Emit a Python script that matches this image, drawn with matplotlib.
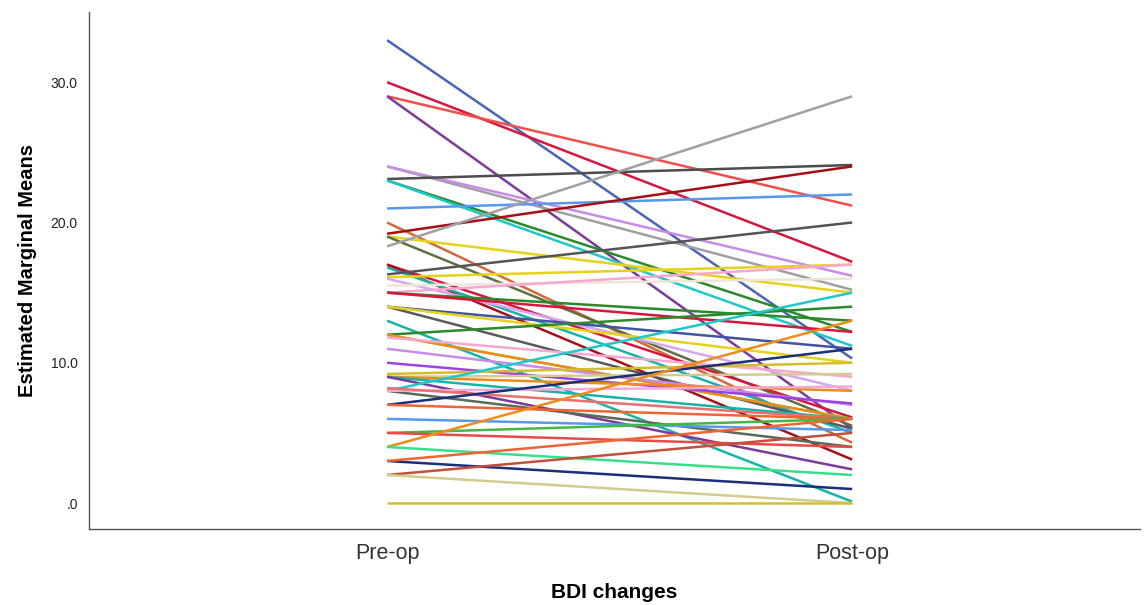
import matplotlib
matplotlib.use("Agg")
import matplotlib.pyplot as plt

plt.rcParams['font.family'] = ['Liberation Sans', 'DejaVu Sans']

categories = ["Pre-op", "Post-op"]
pre_values = [33, 30, 29, 29, 24, 24, 23.1, 23, 23, 21, 20, 19.2, 19, 19, 18.3,
              17, 17, 16.8, 16.3, 16.1, 16, 15.5, 15, 15, 15, 14, 14, 14, 13,
              12, 12, 12, 11.8, 11, 10, 9, 9, 9, 9, 9.2, 8, 8, 8, 8.2, 7, 7,
              6, 5, 5, 4, 4, 3, 3, 2, 2, 0]
post_values = [10.3, 17.2, 21.2, 5.3, 15.2, 16.2, 24.1, 12.2, 11.2, 22, 4.3, 24,
               15, 5.5, 29, 6.1, 3.1, 5, 20, 17, 8, 16, 17, 13, 12.2, 11, 5.3,
               10, 0.1, 14, 6, 6, 9, 7, 7.1, 9.2, 8, 6, 2.4, 10, 15, 4, 8.3, 6,
               11, 6, 5.2, 6, 4, 13, 2, 1, 6, 5, 0, 0]
line_colors = ["#4a64b8", "#d6163f", "#f0504a", "#7e3a9a", "#a0a0a0", "#c98be8",
               "#4d4d4d", "#2a8a2a", "#1ec8c8", "#5599ee", "#d2693c", "#a50f15",
               "#e6d21a", "#5e7040", "#a0a0a0", "#d6163f", "#a50f15", "#18b3a8",
               "#555555", "#e6d21a", "#d6a6f0", "#ede6d6", "#f7a8d0", "#2a8a2a",
               "#d6163f", "#3f55a0", "#5a5a5a", "#e6d21a", "#18b3a8", "#2a8a2a",
               "#66cc33", "#f08a1a", "#f7a8d0", "#c98be8", "#9b42e0", "#d4cc8e",
               "#f08a1a", "#18b3a8", "#7e3a9a", "#d4bd2b", "#1ec8c8", "#5a6a5a",
               "#f7a8d0", "#e87070", "#1b2e78", "#f06432", "#5599ee", "#44b844",
               "#e84a4a", "#f08a1a", "#38e08c", "#1b2e78", "#f06432", "#c0503a",
               "#d4cc8e", "#d4bd2b"]

fig = plt.figure(figsize=(11.45, 6.05), dpi=100)
ax = fig.add_axes([0.0777, 0.1256, 0.918, 0.8544])

x = [0, 1]
for pre, post, c in zip(pre_values, post_values, line_colors):
    ax.plot(x, [pre, post], color=c, lw=1.8, solid_capstyle='butt')

ax.set_xlim(-0.641, 1.619)
ax.set_ylim(-1.85, 35.0)
ax.set_xticks(x)
ax.set_xticklabels(categories, fontsize=15.5, color="#333333")
ax.set_yticks([0, 10, 20, 30])
ax.set_yticklabels([".0", "10.0", "20.0", "30.0"], fontsize=10, color="#222222")
ax.tick_params(axis='both', length=0)
ax.tick_params(axis='x', pad=10)
ax.tick_params(axis='y', pad=8)
for s in ['top', 'right']:
    ax.spines[s].set_visible(False)
for s in ['left', 'bottom']:
    ax.spines[s].set_color("#555555")
    ax.spines[s].set_linewidth(1.0)

ax.set_xlabel("BDI changes", fontsize=15, fontweight='bold', labelpad=14)
ax.set_ylabel("Estimated Marginal Means", fontsize=14.5, fontweight='bold', labelpad=10)

fig.savefig("out.png", dpi=100)
